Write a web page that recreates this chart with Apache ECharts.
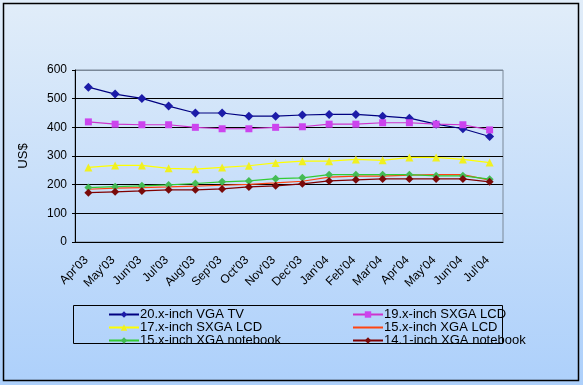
<!DOCTYPE html>
<html><head><meta charset="utf-8">
<script src="https://cdn.jsdelivr.net/npm/echarts@6/dist/echarts.min.js"></script>
<style>html,body{margin:0;padding:0;background:#fff}#c{width:583px;height:385px}</style>
</head><body><div id="c"></div>
<script>
const categories = ["Apr'03","May'03","Jun'03","Jul'03","Aug'03","Sep'03","Oct'03","Nov'03","Dec'03","Jan'04","Feb'04","Mar'04","Apr'04","May'04","Jun'04","Jul'04"];
const yTicks = [0,100,200,300,400,500,600];
const vgaTV20 = [540,516,501,474,450,450,439,439,443,445,445,439,432,411,395,368];
const sxgaLCD19 = [419,411,409,409,400,395,395,400,402,411,411,416,416,411,409,391];
const sxgaLCD17 = [260,267,267,257,254,260,266,276,282,282,288,285,295,295,288,277];
const xgaLCD15 = [184,188,190,192,195,198,201,206,212,226,230,230,233,235,235,216];
const xgaNotebook15 = [190,193,196,199,204,210,213,221,224,235,235,235,235,231,231,219];
const xgaNotebook141 = [172,175,178,182,182,185,192,196,203,213,217,220,220,220,220,210];
const seriesNames = ["20.x-inch VGA TV","19.x-inch SXGA LCD","17.x-inch SXGA LCD","15.x-inch XGA LCD","15.x-inch XGA notebook","14.1-inch XGA notebook"];

const font = "'Liberation Sans', Arial, sans-serif";
const chart = echarts.init(document.getElementById('c'), null, {renderer:'canvas'});
function mk(name, data, lineColor, symbol, symColor, size){
  return {name, type:'line', data, symbol, symbolSize:size, showSymbol: symbol!=='none',
    lineStyle:{color:lineColor, width:1.2}, itemStyle:{color:symColor, borderWidth:0},
    animation:false, z:3};
}
const legendText = {fontSize:13,color:'#000',fontFamily:font,lineHeight:12,padding:[0,0,0,-4]};
chart.setOption({
  backgroundColor:{type:'linear',x:0,y:0,x2:0,y2:1,colorStops:[{offset:0,color:'#e1edf9'},{offset:1,color:'#add0fb'}]},
  animation:false,
  textStyle:{fontFamily:font},
  grid:{left:75,right:80,top:70,bottom:143,show:true,borderColor:'#7a8898',borderWidth:1,backgroundColor:'transparent'},
  xAxis:{type:'category',data:categories,boundaryGap:true,
    axisLine:{lineStyle:{color:'#000',width:1}},
    axisTick:{inside:true,length:4,lineStyle:{color:'#000'}},
    axisLabel:{rotate:45,color:'#000',fontSize:12,fontFamily:font,margin:14,padding:[0,3,0,0]}},
  yAxis:{type:'value',min:0,max:600,interval:100,name:'US$',nameLocation:'middle',nameGap:45,nameRotate:90,
    nameTextStyle:{color:'#000',fontSize:13,fontFamily:font},
    axisLine:{show:true,lineStyle:{color:'#000'}},
    axisTick:{show:true,length:3,lineStyle:{color:'#000'}},
    axisLabel:{color:'#000',fontSize:12,fontFamily:font,margin:8,formatter:v=>yTicks.includes(v)?String(v):''},
    splitLine:{lineStyle:{color:['#000','#000','#000','#000','#000','#000','#7a8898'],width:1}}},
  legend:[
    {data:[seriesNames[0],seriesNames[2],seriesNames[4]],orient:'vertical',left:108,top:308,itemWidth:30,itemHeight:8,itemGap:0,
      textStyle:legendText,padding:0},
    {data:[seriesNames[1],{name:seriesNames[3],itemStyle:{opacity:0}},seriesNames[5]],orient:'vertical',left:352,top:308,itemWidth:30,itemHeight:8,itemGap:0,
      textStyle:legendText,padding:0}
  ],
  graphic:[
    {type:'rect',shape:{x:3.5,y:3.5,width:575,height:377},style:{fill:'none',stroke:'#000',lineWidth:1.5},silent:true},
    {type:'rect',shape:{x:73.5,y:305.5,width:429,height:38},style:{fill:'none',stroke:'#000',lineWidth:1},silent:true}
  ],
  series:[
    mk(seriesNames[0],vgaTV20,'#000080','diamond','#1c1ca8',9),
    mk(seriesNames[1],sxgaLCD19,'#cc33cc','rect','#cc44ee',7),
    mk(seriesNames[2],sxgaLCD17,'#ffff00','triangle','#f0f020',8),
    mk(seriesNames[3],xgaLCD15,'#ff4411','none','#ff4411',0),
    mk(seriesNames[4],xgaNotebook15,'#33cc33','diamond','#44bb55',8),
    mk(seriesNames[5],xgaNotebook141,'#800000','diamond','#7a0a0a',8)
  ]
});
</script></body></html>
